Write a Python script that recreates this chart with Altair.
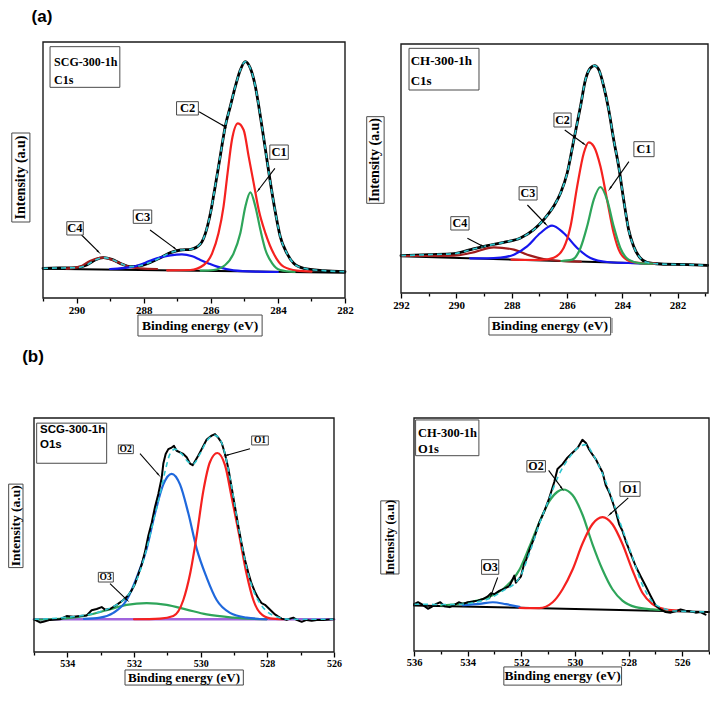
import math
import altair as alt
import pandas as pd

# ------------------------------------------------------------------
# Values (intensity in arbitrary units)
# ------------------------------------------------------------------
# (a) left : SCG-300-1h  C1s
a_env_ev = [291.0, 290.5, 290.0, 289.7, 289.45, 289.2, 288.95, 288.7, 288.4, 288.1,
            287.8, 287.5, 287.2, 286.9, 286.6, 286.31, 286.16, 286.01, 285.87, 285.72,
            285.57, 285.42, 285.27, 285.12, 284.97, 284.82, 284.67, 284.52, 284.37, 284.22,
            284.07, 283.93, 283.73, 283.53, 283.23, 282.63, 282.0]
a_env_i = [89, 90, 91, 99, 114, 121, 116, 104, 94, 97,
           107, 121, 136, 144, 146, 162, 194, 254, 334, 424,
           514, 574, 634, 684, 709, 689, 634, 544, 444, 344,
           254, 184, 134, 104, 89, 82, 79]
a_c1_ev = [286.3, 285.92, 285.57, 285.32, 285.12, 284.97, 284.82, 284.67, 284.52, 284.37, 284.17, 283.93, 283.5]
a_c1_i = [82, 84, 99, 134, 194, 274, 317, 274, 204, 144, 104, 84, 78]
a_c2_ev = [287.3, 286.61, 286.21, 285.96, 285.77, 285.62, 285.50, 285.37, 285.19, 285.02,
           284.87, 284.72, 284.57, 284.37, 284.13, 283.83, 283.43, 283.0]
a_c2_i = [83, 84, 99, 134, 194, 274, 374, 474, 524, 504, 424, 344, 264, 194, 134, 94, 82, 79]
a_c3_ev = [289.0, 288.3, 287.95, 287.61, 287.2, 286.86, 286.55, 286.31, 286.05, 285.81, 285.32, 284.6, 284.0]
a_c3_i = [87, 94, 106, 119, 128, 131, 125, 114, 103, 94, 83, 79, 78]
a_c4_ev = [290.3, 289.9, 289.6, 289.2, 288.8, 288.45, 288.1, 287.6]
a_c4_i = [88, 94, 111, 121, 109, 94, 89, 87]
a_bg_ev = [291.0, 282.0]
a_bg_i = [88, 76]

# (a) right : CH-300-1h  C1s
b_env_ev = [292.0, 291.0, 290.09, 289.48, 288.88, 288.28, 287.68, 287.20, 286.84, 286.48,
            286.23, 285.99, 285.75, 285.51, 285.33, 285.15, 285.00, 284.85, 284.67, 284.49,
            284.31, 284.13, 283.95, 283.77, 283.59, 283.35, 283.11, 282.62, 281.66, 280.92]
b_env_i = [112, 115, 118, 130, 142, 152, 165, 190, 220, 260,
           300, 360, 460, 560, 640, 675, 682, 670, 620, 550,
           460, 380, 280, 190, 140, 105, 92, 87, 85, 83]
b_c1_ev = [286.2, 285.81, 285.51, 285.27, 285.03, 284.79, 284.55, 284.31, 284.07, 283.77, 283.35, 282.9]
b_c1_i = [96, 100, 135, 200, 280, 318, 280, 200, 135, 100, 89, 88]
b_c2_ev = [288.0, 286.96, 286.48, 286.12, 285.87, 285.63, 285.39, 285.21, 285.03, 284.79,
           284.55, 284.31, 284.07, 283.71, 283.23, 282.8]
b_c2_i = [100, 99, 106, 135, 200, 320, 420, 452, 440, 380, 280, 180, 120, 95, 89, 88]
b_c3_ev = [289.5, 288.9, 288.4, 287.92, 287.44, 286.96, 286.54, 286.12, 285.63, 285.15, 284.55, 283.8, 283.0]
b_c3_i = [104, 104, 106, 115, 140, 180, 202, 180, 135, 105, 93, 90, 88]
b_c4_ev = [292.0, 291.0, 290.09, 289.48, 288.64, 287.92, 287.32, 286.84, 286.2, 285.5]
b_c4_i = [111, 111, 112, 120, 137, 130, 112, 102, 96, 94]
b_bg_ev = [292.0, 280.9]
b_bg_i = [110, 83]

# (b) left : SCG-300-1h  O1s
c_raw_ev = [534.97, 534.82, 534.72, 534.52, 534.22, 534.02, 533.82, 533.62, 533.42, 533.27,
            533.12, 532.97, 532.87, 532.72, 532.52, 532.32, 532.17, 532.07, 531.97, 531.87,
            531.77, 531.67, 531.57, 531.47, 531.37, 531.27, 531.17, 531.12, 531.05, 530.97,
            530.87, 530.80, 530.72, 530.62, 530.52, 530.42, 530.32, 530.24, 530.17, 530.07,
            529.97, 529.82, 529.67, 529.57, 529.47, 529.37, 529.27, 529.17, 529.07, 528.97,
            528.87, 528.77, 528.67, 528.57, 528.47, 528.37, 528.27, 528.17, 528.07, 527.97,
            527.87, 527.77, 527.67, 527.57, 527.42, 527.32, 527.22, 527.12, 526.97, 526.82,
            526.67, 526.52, 526.32, 526.02]
c_raw_i = [100, 92, 94, 100, 102, 112, 110, 112, 114, 130,
           134, 140, 132, 134, 147, 162, 177, 192, 212, 242,
           272, 312, 362, 402, 452, 492, 542, 587, 617, 632,
           637, 642, 627, 622, 617, 607, 587, 582, 594, 612,
           632, 662, 674, 679, 667, 652, 617, 572, 512, 452,
           392, 337, 287, 247, 212, 187, 167, 152, 147, 137,
           127, 117, 110, 104, 100, 104, 107, 100, 94, 100,
           97, 100, 100, 102]
c_env_ev = [535.0, 534.02, 533.22, 532.72, 532.32, 532.02, 531.82, 531.62, 531.42, 531.22,
            531.07, 530.92, 530.77, 530.57, 530.37, 530.22, 530.02, 529.82, 529.57, 529.37,
            529.12, 528.87, 528.62, 528.42, 528.22, 528.02, 527.72, 527.32, 526.02]
c_env_i = [102, 108, 120, 137, 162, 202, 252, 322, 407, 492,
           562, 617, 632, 617, 592, 587, 617, 657, 675, 652,
           542, 392, 262, 192, 152, 127, 110, 102, 102]
c_o1_ev = [532.0, 531.22, 530.82, 530.52, 530.32, 530.12, 529.92, 529.72, 529.50, 529.27,
           529.07, 528.84, 528.62, 528.42, 528.22, 527.92, 527.52]
c_o1_i = [102, 104, 112, 162, 242, 362, 502, 592, 620, 582, 482, 362, 242, 162, 122, 105, 102]
c_o2_ev = [533.5, 533.02, 532.62, 532.22, 531.92, 531.62, 531.37, 531.12, 530.87, 530.62,
           530.37, 530.12, 529.82, 529.52, 529.12, 528.62, 528.02]
c_o2_i = [103, 107, 122, 162, 232, 322, 432, 522, 555, 522, 432, 322, 232, 162, 122, 107, 102]
c_o3_ev = [535.0, 534.52, 533.52, 532.82, 532.22, 531.62, 531.02, 530.42, 529.82, 529.02, 528.02]
c_o3_i = [101, 102, 112, 130, 147, 152, 147, 132, 117, 107, 102]
c_bg_ev = [535.0, 526.0]
c_bg_i = [102, 102]

# (b) right : CH-300-1h  O1s
d_raw_ev = [536.0, 535.85, 535.67, 535.48, 535.36, 535.17, 535.02, 534.86, 534.67, 534.49,
            534.33, 534.18, 533.99, 533.81, 533.62, 533.43, 533.25, 533.13, 533.00, 532.82,
            532.63, 532.44, 532.26, 532.20, 532.01, 531.89, 531.82, 531.70, 531.51, 531.33,
            531.14, 530.96, 530.77, 530.65, 530.46, 530.28, 530.09, 529.90, 529.72, 529.59,
            529.47, 529.35, 529.22, 529.10, 528.97, 528.85, 528.73, 528.60, 528.48, 528.35,
            528.23, 528.11, 527.92, 527.73, 527.55, 527.36, 527.18, 526.99, 526.81, 526.62,
            526.43, 526.25, 526.06, 525.88, 525.69, 525.50, 525.32, 525.13]
d_raw_i = [144, 150, 142, 130, 135, 145, 150, 138, 135, 142,
           150, 145, 150, 152, 155, 160, 168, 178, 175, 185,
           192, 200, 232, 210, 230, 270, 280, 310, 350, 395,
           430, 470, 520, 560, 575, 595, 610, 625, 650, 640,
           620, 605, 590, 570, 550, 510, 490, 460, 430, 390,
           370, 340, 300, 260, 230, 200, 170, 140, 128, 120,
           118, 122, 128, 124, 122, 118, 120, 112]
d_env_ev = [536.0, 534.55, 533.31, 532.69, 532.07, 531.70, 531.33, 530.96, 530.58, 530.21,
            529.84, 529.59, 529.35, 528.97, 528.60, 528.23, 527.86, 527.49, 527.12, 526.74,
            526.37, 525.88, 525.03]
d_env_i = [144, 143, 158, 185, 225, 300, 390, 468, 545, 595,
           628, 635, 608, 545, 465, 375, 290, 205, 152, 132,
           124, 122, 120]
d_o2_ev = [535.0, 533.93, 532.69, 532.07, 531.70, 531.33, 530.96, 530.65, 530.44, 530.09,
           529.72, 529.35, 528.97, 528.60, 528.23, 527.73, 527.12, 526.5]
d_o2_i = [140, 150, 190, 250, 320, 395, 460, 490, 497, 480, 420, 330, 250, 190, 155, 135, 128, 125]
d_o1_ev = [532.07, 531.33, 530.83, 530.46, 530.09, 529.72, 529.35, 528.97, 528.60, 528.23,
           527.86, 527.49, 527.12, 526.62, 526.12]
d_o1_i = [133, 132, 150, 190, 250, 330, 390, 412, 390, 330, 250, 180, 145, 128, 124]
d_o3_ev = [534.18, 533.56, 533.06, 532.57, 532.07]
d_o3_i = [141, 145, 150, 144, 136]
d_bg_ev = [536.0, 525.0]
d_bg_i = [140, 120]

# tick values
a_major = [282, 284, 286, 288, 290]
a_minor = [283, 285, 287, 289, 291]
b_major = [282, 284, 286, 288, 290, 292]
b_minor = [281, 283, 285, 287, 289, 291]
c_major = [526, 528, 530, 532, 534]
c_minor = [527, 529, 531, 533, 535]
d_major = [526, 528, 530, 532, 534, 536]
d_minor = [525, 527, 529, 531, 533, 535]

XTITLE = "Binding energy (eV)"
YTITLE = "Intensity (a.u)"

# ------------------------------------------------------------------
# Layout (pixel ranges of each panel inside the chart)
# ------------------------------------------------------------------
W, H = 702, 678
PANEL = {
    'A': dict(xdom=[282, 291], xr=[337, 35], ydom=[0, 768], yr=[290, 34]),
    'B': dict(xdom=[280.9, 292], xr=[700, 393], ydom=[0, 747], yr=[285, 36]),
    'C': dict(xdom=[526, 535], xr=[326, 26], ydom=[0, 729], yr=[644, 410]),
    'D': dict(xdom=[525, 536], xr=[701, 406], ydom=[0, 717], yr=[643, 410]),
}

SERIF = 'Liberation Serif'
SANS = 'Liberation Sans'
CYAN = '#2fc6cf'
GREEN = '#2ea55a'
RED = '#f5211f'
BLUE1 = '#1616ee'
BLUE2 = '#1f68dc'
DRED = '#9e1c1c'
PURPLE = '#a064dc'


def xenc(p, axis=None):
    return alt.X('x:Q', scale=alt.Scale(domain=p['xdom'], range=p['xr'], nice=False, zero=False), axis=axis)


def yenc(p):
    return alt.Y('y:Q', scale=alt.Scale(domain=p['ydom'], range=p['yr'], nice=False, zero=False), axis=None)


def tick_axis(p, values, size, major=True):
    kw = dict(orient='bottom', offset=p['yr'][0] - H, values=values, domain=False, grid=False,
              ticks=True, tickColor='black', tickWidth=1.3, title=None)
    if major:
        kw.update(tickSize=5, labels=True, labelFont=SERIF, labelFontWeight='bold',
                  labelFontSize=size, labelColor='black', labelPadding=1,
                  labelFlush=False, labelOverlap=False, format='d')
    else:
        kw.update(tickSize=3, labels=False)
    return alt.Axis(**kw)


def curve(p, ev, iv, color, width, dash=None, interp='monotone', axis=None):
    df = pd.DataFrame({'x': ev, 'y': iv})
    kw = dict(color=color, strokeWidth=width, interpolate=interp, clip=False,
              strokeJoin='round', strokeCap='round')
    if dash is not None:
        kw['strokeDash'] = dash
        kw['strokeCap'] = 'butt'
    return alt.Chart(df).mark_line(**kw).encode(x=xenc(p, axis), y=yenc(p))


def frame(p, axis):
    df = pd.DataFrame({'x': [p['xdom'][0]], 'x2': [p['xdom'][1]],
                       'y': [p['ydom'][0]], 'y2': [p['ydom'][1]]})
    return alt.Chart(df).mark_rect(fillOpacity=0, stroke='#1a1a1a', strokeWidth=1.4).encode(
        x=xenc(p, axis), x2='x2:Q', y=yenc(p), y2='y2:Q')


def boxes(p, rects, stroke='#4a4a4a', width=1.0):
    df = pd.DataFrame({'x': [r[0] for r in rects], 'x2': [r[1] for r in rects],
                       'y': [r[2] for r in rects], 'y2': [r[3] for r in rects]})
    return alt.Chart(df).mark_rect(fill='white', stroke=stroke, strokeWidth=width).encode(
        x=xenc(p), x2='x2:Q', y=yenc(p), y2='y2:Q')


def strokes(p, segs, color='#6a6a6a', width=1.0):
    df = pd.DataFrame({'x': [s[0] for s in segs], 'y': [s[1] for s in segs],
                       'x2': [s[2] for s in segs], 'y2': [s[3] for s in segs]})
    return alt.Chart(df).mark_rule(color=color, strokeWidth=width).encode(
        x=xenc(p), y=yenc(p), x2='x2:Q', y2='y2:Q')


def texts(p, xs, ys, ts, font, size, align='center', angle=None):
    df = pd.DataFrame({'x': xs, 'y': ys, 't': ts})
    kw = dict(font=font, fontSize=size, fontWeight='bold', align=align, baseline='middle',
              color='black', clip=False)
    if angle is not None:
        kw['angle'] = angle
    return alt.Chart(df).mark_text(**kw).encode(x=xenc(p), y=yenc(p), text='t:N')


def head_angle(p, x1, y1, x2, y2):
    sx = (p['xr'][1] - p['xr'][0]) / (p['xdom'][1] - p['xdom'][0])
    sy = (p['yr'][1] - p['yr'][0]) / (p['ydom'][1] - p['ydom'][0])
    dx = (x2 - x1) * sx
    dy = (y2 - y1) * sy
    return math.degrees(math.atan2(dx, -dy)) % 360


def arrows(p, arr):
    df = pd.DataFrame({'x': [a[0] for a in arr], 'y': [a[1] for a in arr],
                       'x2': [a[2] for a in arr], 'y2': [a[3] for a in arr]})
    rule = alt.Chart(df).mark_rule(color='black', strokeWidth=1.1).encode(
        x=xenc(p), y=yenc(p), x2='x2:Q', y2='y2:Q')
    hd = pd.DataFrame({'x': [a[2] for a in arr], 'y': [a[3] for a in arr],
                       'a': [head_angle(p, *a) for a in arr]})
    head = alt.Chart(hd).mark_point(shape='wedge', filled=True, color='black', size=45,
                                    opacity=1, strokeWidth=0).encode(
        x=xenc(p), y=yenc(p), angle=alt.Angle('a:Q', scale=None))
    return [rule, head]


# annotation placement (data coordinates of each panel)
ANN = {
    'A': dict(
        sample=['SCG-300-1h', 'C1s'], sfont=SERIF, ssize=12,
        sbox=(290.79, 288.71, 632, 754), sx=290.67, sy=[709, 654],
        tags=['C1', 'C2', 'C3', 'C4'], tfont=SERIF, tsize=12.5,
        tpos=[(283.96, 437), (286.69, 569), (288.03, 244), (290.05, 209)],
        tbox=[(284.24, 283.69, 416, 459), (287.02, 286.37, 549, 589),
              (288.31, 287.76, 224, 264), (290.29, 289.80, 189, 229)],
        arr=[(284.09, 389, 284.58, 324), (286.35, 559, 285.61, 516),
             (287.81, 204, 287.07, 149), (289.85, 189, 289.35, 139)],
        ybox=(291.93, 291.39, 228, 495), ypos=(291.66, 361.5), yfs=14,
        xbox=(288.17, 284.47, -114, -51), xpos=(286.32, -82.5), xfs=13.5,
        letter='(a)', lpos=(291.03, 843), extra=[],
        major=a_major, minor=a_minor, lfs=11),
    'B': dict(
        sample=['CH-300-1h', 'C1s'], sfont=SERIF, ssize=13,
        sbox=(291.71, 289.18, 609, 734), sx=291.65, sy=[697, 637],
        tags=['C1', 'C2', 'C3', 'C4'], tfont=SERIF, tsize=12,
        tpos=[(283.22, 431.5), (286.16, 519), (287.41, 299), (289.87, 209)],
        tbox=[(283.58, 282.85, 409, 454), (286.47, 285.85, 498, 540),
              (287.73, 287.08, 279, 319), (290.20, 289.54, 189, 229)],
        arr=[(283.76, 394, 284.44, 314), (286.08, 489, 285.38, 447),
             (287.43, 264, 286.77, 207), (289.60, 164, 289.06, 141)],
        ybox=(293.24, 292.61, 269, 529), ypos=(292.93, 399), yfs=14,
        xbox=(288.82, 284.42, -126, -73), xpos=(286.62, -99.5), xfs=13.5,
        letter=None, lpos=None, extra=[(284.37, -75, 284.37, -120)],
        major=b_major, minor=b_minor, lfs=11),
    'C': dict(
        sample=['SCG-300-1h', 'O1s'], sfont=SANS, ssize=11.5,
        sbox=(534.92, 532.82, 588, 713), sx=534.82, sy=[691, 645],
        tags=['O2', 'O1', 'O3'], tfont=SERIF, tsize=9.5,
        tpos=[(532.25, 631.5), (528.22, 659), (532.85, 233)],
        tbox=[(532.47, 532.02, 618, 645), (528.47, 527.97, 645, 673),
              (533.07, 532.62, 218, 248)],
        arr=[(531.82, 618, 531.27, 553), (528.52, 633, 529.22, 613),
             (532.72, 213, 532.22, 163)],
        ybox=(535.76, 535.33, 263, 523), ypos=(535.55, 393), yfs=13.5,
        xbox=(532.27, 528.72, -103, -56), xpos=(530.5, -79.5), xfs=13,
        letter='(b)', lpos=(535.03, 918), extra=[],
        major=c_major, minor=c_minor, lfs=10),
    'D': dict(
        sample=['CH-300-1h', 'O1s'], sfont=SERIF, ssize=12.5,
        sbox=(535.94, 533.58, 601, 711), sx=535.85, sy=[671, 621],
        tags=['O2', 'O1', 'O3'], tfont=SERIF, tsize=12,
        tpos=[(531.45, 568.5), (527.95, 498.5), (533.16, 258.5)],
        tbox=[(531.79, 531.10, 551, 586), (528.32, 527.57, 476, 521),
              (533.48, 532.84, 236, 281)],
        arr=[(530.98, 556, 530.49, 501), (528.01, 471, 528.69, 421),
             (532.88, 226, 533.13, 171)],
        ybox=(537.24, 536.56, 237, 462), ypos=(536.9, 349.5), yfs=12.5,
        xbox=(532.65, 528.26, -105, -49), xpos=(530.46, -77), xfs=13.5,
        letter=None, lpos=None, extra=[],
        major=d_major, minor=d_minor, lfs=10.5),
}

SERIES = {
    'A': dict(bg=(a_bg_ev, a_bg_i, 'black', 2.0),
              raw=(a_env_ev, a_env_i, 2.8, 'monotone'),
              comps=[(a_c4_ev, a_c4_i, DRED), (a_c3_ev, a_c3_i, BLUE1),
                     (a_c2_ev, a_c2_i, RED), (a_c1_ev, a_c1_i, GREEN)],
              env=(a_env_ev, a_env_i), comps_first=False),
    'B': dict(bg=(b_bg_ev, b_bg_i, 'black', 2.0),
              raw=(b_env_ev, b_env_i, 2.8, 'monotone'),
              comps=[(b_c4_ev, b_c4_i, DRED), (b_c3_ev, b_c3_i, BLUE1),
                     (b_c2_ev, b_c2_i, RED), (b_c1_ev, b_c1_i, GREEN)],
              env=(b_env_ev, b_env_i), comps_first=False),
    'C': dict(bg=(c_bg_ev, c_bg_i, PURPLE, 2.5),
              raw=(c_raw_ev, c_raw_i, 2.0, 'linear'),
              comps=[(c_o3_ev, c_o3_i, GREEN), (c_o2_ev, c_o2_i, BLUE2),
                     (c_o1_ev, c_o1_i, RED)],
              env=(c_env_ev, c_env_i), comps_first=True),
    'D': dict(bg=(d_bg_ev, d_bg_i, 'black', 2.0),
              raw=(d_raw_ev, d_raw_i, 2.0, 'linear'),
              comps=[(d_o3_ev, d_o3_i, BLUE2), (d_o2_ev, d_o2_i, GREEN),
                     (d_o1_ev, d_o1_i, RED)],
              env=(d_env_ev, d_env_i), comps_first=True),
}


def panel(key):
    p = PANEL[key]
    a = ANN[key]
    s = SERIES[key]
    layers = []
    bg_ev, bg_i, bg_col, bg_w = s['bg']
    layers.append(curve(p, bg_ev, bg_i, bg_col, bg_w, interp='linear',
                        axis=tick_axis(p, a['minor'], a['lfs'], major=False)))
    raw_ev, raw_i, raw_w, raw_interp = s['raw']
    comp_layers = [curve(p, ev, iv, col, 2.2) for ev, iv, col in s['comps']]
    raw_layer = curve(p, raw_ev, raw_i, 'black', raw_w, interp=raw_interp)
    if s['comps_first']:
        layers += comp_layers + [raw_layer]
    else:
        layers += [raw_layer] + comp_layers
    layers.append(curve(p, s['env'][0], s['env'][1], CYAN, 1.6, dash=[5, 4]))
    layers.append(frame(p, tick_axis(p, a['major'], a['lfs'], major=True)))
    layers += arrows(p, a['arr'])
    layers.append(boxes(p, [a['sbox']] + a['tbox'] + [a['ybox'], a['xbox']]))
    if a['extra']:
        layers.append(strokes(p, a['extra']))
    layers.append(texts(p, [a['sx']] * len(a['sample']), a['sy'], a['sample'],
                        a['sfont'], a['ssize'], align='left'))
    layers.append(texts(p, [t[0] for t in a['tpos']], [t[1] for t in a['tpos']],
                        a['tags'], a['tfont'], a['tsize']))
    layers.append(texts(p, [a['ypos'][0]], [a['ypos'][1]], [YTITLE], SERIF, a['yfs'], angle=270))
    layers.append(texts(p, [a['xpos'][0]], [a['xpos'][1]], [XTITLE], SERIF, a['xfs']))
    if a['letter']:
        layers.append(texts(p, [a['lpos'][0]], [a['lpos'][1]], [a['letter']], SANS, 17))
    return layers


all_layers = []
for k in ['A', 'B', 'C', 'D']:
    all_layers += panel(k)

chart = alt.layer(*all_layers).resolve_scale(
    x='independent', y='independent'
).properties(
    width=W, height=H, padding=0,
    autosize=alt.AutoSizeParams(type='none'),
    background='white',
).configure_view(strokeWidth=0)

chart.save("out.html", embed_options={"renderer": "svg", "actions": False})
